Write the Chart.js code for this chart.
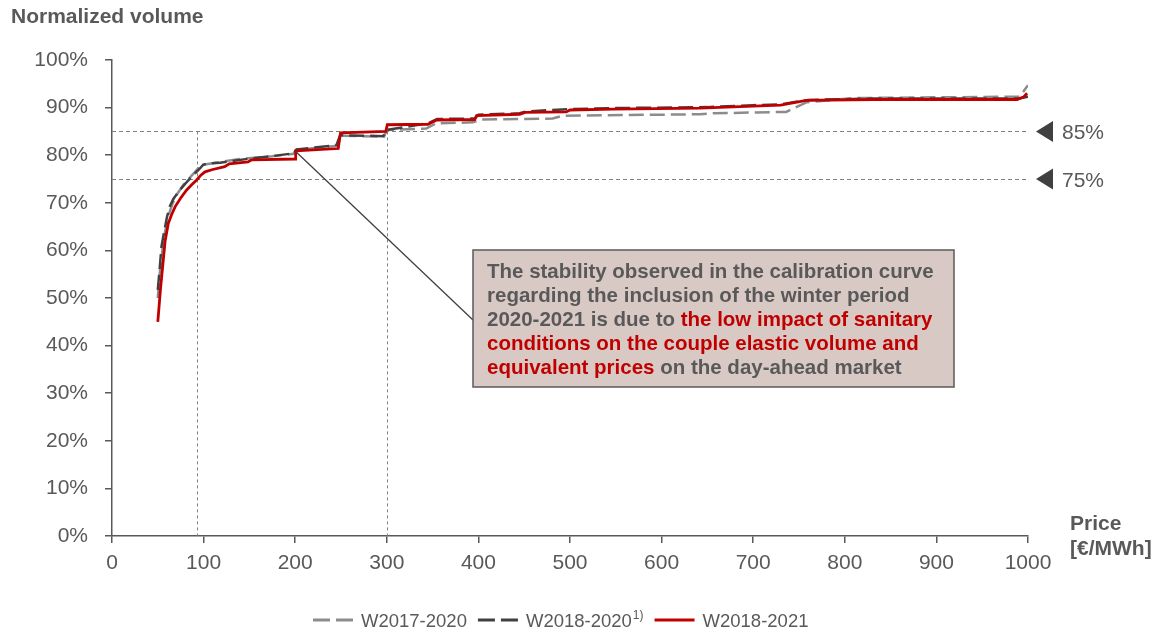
<!DOCTYPE html>
<html>
<head>
<meta charset="utf-8">
<script src="https://cdn.jsdelivr.net/npm/chart.js@4/dist/chart.umd.min.js"></script>
<style>
  html, body { margin: 0; padding: 0; background: #fff; }
  #wrap { width: 1162px; height: 632px; position: relative; }
</style>
</head>
<body>
<div id="wrap"><canvas id="chart"></canvas></div>
<script>
// price [€/MWh] / normalized volume [%]
const w1721Price = [50, 52, 55, 58, 62, 66, 71, 78, 86, 94, 100, 110, 125, 140, 152, 175, 198, 201, 246, 250, 297, 300, 343, 354, 394, 402, 481, 492, 642, 656, 736, 758, 809, 991, 1000];
const w1721Vol   = [50, 55, 60, 64, 67.5, 69.8, 71.8, 73.8, 75.5, 77.2, 78, 78.3, 78.8, 79.2, 79.4, 79.8, 80.3, 81.1, 82, 84.1, 83.9, 85.3, 85.6, 86.7, 86.9, 87.5, 87.7, 88.3, 88.6, 88.8, 89.1, 91.1, 92, 92.3, 94.7];

const w1820Price = [50, 52, 54, 57, 60, 63, 67, 72.4, 80, 87, 95, 99.7, 105, 118, 135, 150.7, 175, 198, 201.6, 245, 249, 296, 300, 345, 355, 396, 400, 445, 452, 500, 550, 650, 700, 730, 760, 830, 990, 1000];
const w1820Vol   = [51.7, 56, 60.8, 64, 67, 69.2, 70.8, 72.3, 74, 75.5, 77, 78, 78.3, 78.4, 78.9, 79.3, 79.8, 80.4, 81.2, 82.1, 84.2, 84, 85.3, 86.7, 87.6, 87.7, 88.5, 88.8, 89.2, 89.7, 89.9, 90.1, 90.5, 90.7, 91.6, 91.9, 91.9, 92.3];

const w1821Price = [50, 53, 56, 58, 61.5, 65, 69, 75, 81.5, 87, 92.4, 97, 101.5, 110, 123, 128, 148.5, 152, 200, 200.5, 247, 249.5, 299, 300.5, 345, 354.5, 396, 398, 445, 451, 496, 500, 547, 642, 700, 730, 758, 831, 988, 995, 999];
const w1821Vol   = [45, 52, 58, 62, 65.7, 67.5, 69.2, 71, 72.7, 73.8, 74.8, 75.8, 76.5, 77, 77.6, 78.2, 78.6, 79, 79.2, 80.9, 81.4, 84.7, 85, 86.4, 86.5, 87.4, 87.5, 88.3, 88.6, 89, 89.1, 89.5, 89.7, 89.9, 90.3, 90.5, 91.5, 91.7, 91.7, 92.2, 93];

const seriesNames = ['W2017-2020', 'W2018-2020', 'W2018-2021'];
const seriesNotes = ['', '1)', ''];

const xTicks = [0, 100, 200, 300, 400, 500, 600, 700, 800, 900, 1000];
const yTicks = [0, 10, 20, 30, 40, 50, 60, 70, 80, 90, 100];

const refLevels = [85, 75];      // horizontal thresholds
const refPrices = [93, 300];     // vertical guides

const GREY = '#595959';
const RED = '#c00000';
const FONT = '"Liberation Sans", Arial, sans-serif';

const toPoints = (xs, ys) => xs.map((x, i) => ({ x, y: ys[i] }));

const noteLines = [
  [['The stability observed in the calibration curve', GREY]],
  [['regarding the inclusion of the winter period', GREY]],
  [['2020-2021 is due to ', GREY], ['the low impact of sanitary', RED]],
  [['conditions on the couple elastic volume and', RED]],
  [['equivalent prices', RED], [' on the day-ahead market', GREY]],
];

const decorations = {
  id: 'decorations',
  beforeDatasetsDraw(chart) {
    const { ctx, chartArea, scales: { x, y } } = chart;
    ctx.save();
    ctx.strokeStyle = '#7f7f7f';
    ctx.lineWidth = 1;
    ctx.setLineDash([4, 3]);
    refLevels.forEach(v => {
      const py = Math.round(y.getPixelForValue(v)) + 0.5;
      ctx.beginPath();
      ctx.moveTo(chartArea.left, py);
      ctx.lineTo(chartArea.right, py);
      ctx.stroke();
    });
    const top = y.getPixelForValue(refLevels[0]);
    ctx.setLineDash([3, 3]);
    refPrices.forEach(v => {
      const px = Math.round(x.getPixelForValue(v)) + 0.5;
      ctx.beginPath();
      ctx.moveTo(px, top);
      ctx.lineTo(px, chartArea.bottom);
      ctx.stroke();
    });
    ctx.restore();
  },
  afterDraw(chart) {
    const { ctx, scales: { x, y } } = chart;
    ctx.save();

    // axis titles
    ctx.fillStyle = GREY;
    ctx.font = 'bold 21px ' + FONT;
    ctx.textBaseline = 'alphabetic';
    ctx.textAlign = 'left';
    ctx.fillText('Normalized volume', 11, 23);
    ctx.fillText('Price', 1070, 530);
    ctx.fillText('[\u20AC/MWh]', 1070, 555);

    // threshold markers
    ctx.font = '21px ' + FONT;
    refLevels.forEach(v => {
      const py = y.getPixelForValue(v);
      ctx.fillStyle = '#404040';
      ctx.beginPath();
      ctx.moveTo(1036, py);
      ctx.lineTo(1053, py - 10.5);
      ctx.lineTo(1053, py + 10.5);
      ctx.closePath();
      ctx.fill();
      ctx.fillStyle = GREY;
      ctx.fillText(v + '%', 1062, py + 7.5);
    });

    // callout
    const box = { left: 473, top: 250, right: 954, bottom: 387 };
    ctx.strokeStyle = '#404040';
    ctx.lineWidth = 1.3;
    ctx.beginPath();
    ctx.moveTo(x.getPixelForValue(200), y.getPixelForValue(80.9));
    ctx.lineTo(box.left, 320);
    ctx.stroke();

    ctx.fillStyle = '#d9c9c4';
    ctx.fillRect(box.left, box.top, box.right - box.left, box.bottom - box.top);
    ctx.strokeStyle = GREY;
    ctx.lineWidth = 1.5;
    ctx.strokeRect(box.left, box.top, box.right - box.left, box.bottom - box.top);

    ctx.font = 'bold 20.5px ' + FONT;
    noteLines.forEach((line, i) => {
      let tx = 487;
      const ty = 278 + i * 24;
      line.forEach(([txt, col]) => {
        ctx.fillStyle = col;
        ctx.fillText(txt, tx, ty);
        tx += ctx.measureText(txt).width;
      });
    });

    // legend, taken from the dataset styles
    let lx = 313;
    const ly = 620;
    chart.data.datasets.forEach((ds, i) => {
      ctx.strokeStyle = ds.borderColor;
      ctx.lineWidth = 3;
      ctx.setLineDash(ds.borderDash ? [17, 6] : []);
      ctx.beginPath();
      ctx.moveTo(lx, ly);
      ctx.lineTo(lx + 40, ly);
      ctx.stroke();
      ctx.setLineDash([]);
      lx += 48;
      ctx.fillStyle = GREY;
      ctx.font = '18.5px ' + FONT;
      ctx.fillText(seriesNames[i], lx, ly + 7);
      lx += ctx.measureText(seriesNames[i]).width;
      if (seriesNotes[i]) {
        ctx.font = '12px ' + FONT;
        ctx.fillText(seriesNotes[i], lx + 1, ly - 1);
        lx += ctx.measureText(seriesNotes[i]).width + 1;
      }
      lx += 11;
    });
    ctx.restore();
  }
};

const ctx = document.getElementById('chart').getContext('2d');
new Chart(ctx, {
  type: 'line',
  data: {
    datasets: [
      {
        label: seriesNames[0],
        data: toPoints(w1721Price, w1721Vol),
        borderColor: '#8c8c8c',
        borderWidth: 2.5,
        borderDash: [15, 6],
        order: 2,
      },
      {
        label: seriesNames[1],
        data: toPoints(w1820Price, w1820Vol),
        borderColor: '#404040',
        borderWidth: 2.5,
        borderDash: [15, 6],
        order: 1,
      },
      {
        label: seriesNames[2],
        data: toPoints(w1821Price, w1821Vol),
        borderColor: RED,
        borderWidth: 2.8,
        order: 0,
      },
    ],
  },
  options: {
    responsive: true,
    maintainAspectRatio: false,
    animation: false,
    elements: { point: { radius: 0 }, line: { tension: 0 } },
    layout: { padding: { left: 0, top: 60, right: 134, bottom: 48 } },
    plugins: {
      legend: { display: false },
      tooltip: { enabled: false },
    },
    scales: {
      x: {
        type: 'linear',
        min: 0,
        max: 1000,
        afterBuildTicks: s => { s.ticks = xTicks.map(v => ({ value: v })); },
        afterFit: s => { s.height = 48; },
        ticks: { color: GREY, font: { family: FONT, size: 21 }, padding: 8, callback: v => String(v) },
        grid: { drawOnChartArea: false, tickLength: 7, color: GREY, lineWidth: 1.5 },
        border: { color: GREY, width: 1.5 },
      },
      y: {
        min: 0,
        max: 100,
        afterBuildTicks: s => { s.ticks = yTicks.map(v => ({ value: v })); },
        afterFit: s => { s.width = 112; },
        ticks: { color: GREY, font: { family: FONT, size: 21 }, padding: 17, callback: v => v + '%' },
        grid: { drawOnChartArea: false, tickLength: 7, color: GREY, lineWidth: 1.5 },
        border: { color: GREY, width: 1.5 },
      },
    },
  },
  plugins: [decorations],
});
</script>
</body>
</html>
